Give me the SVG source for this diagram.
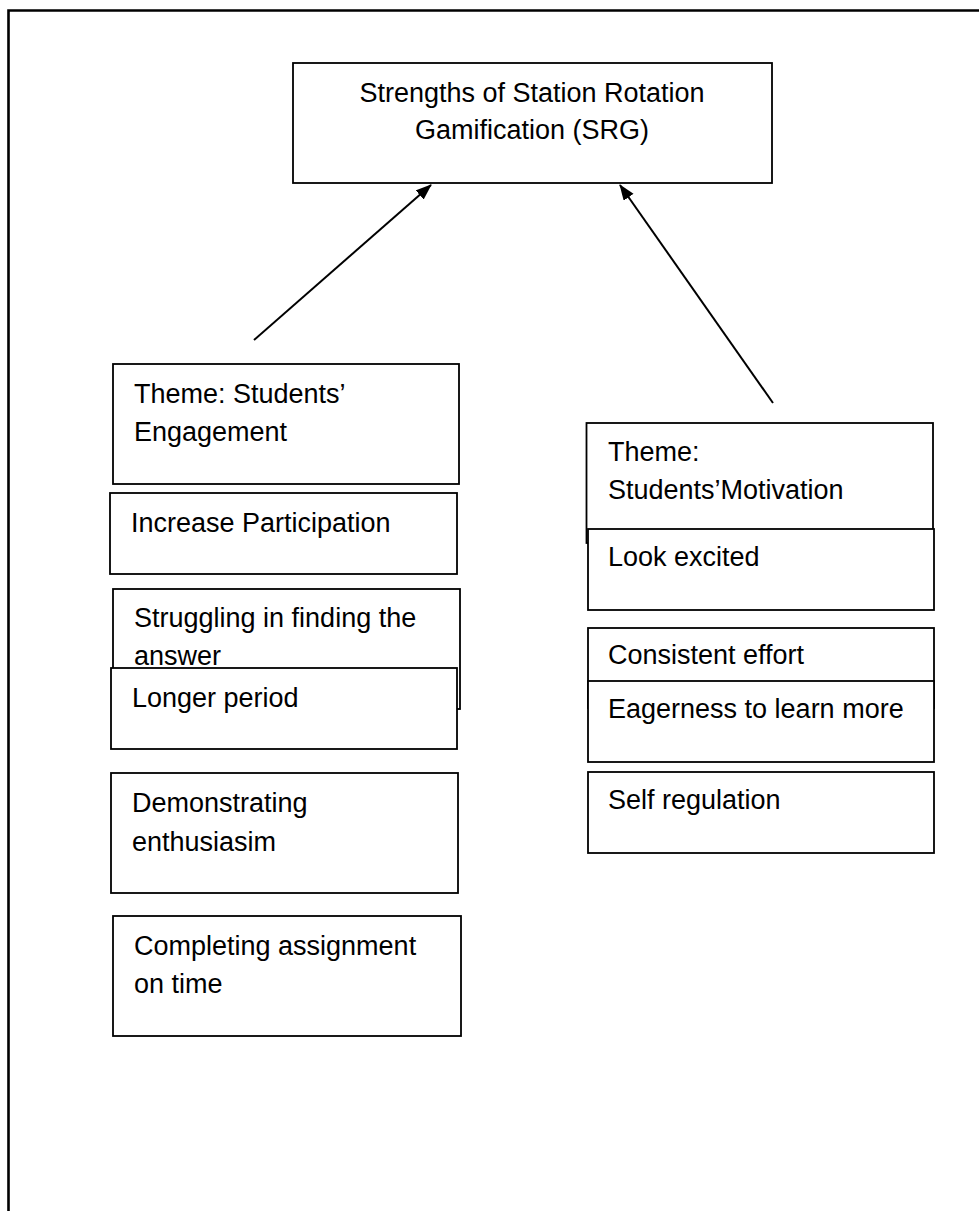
<svg xmlns="http://www.w3.org/2000/svg" width="979" height="1211" viewBox="0 0 979 1211">
<style>
.box{fill:#fff;stroke:#000;stroke-width:1.8}
.t{font-family:"Liberation Sans",Arial,sans-serif;font-size:27px;fill:#000}
.c{text-anchor:middle}
.conn{stroke:#000;stroke-width:2;fill:none}
</style>
<defs>
<marker id="ah" markerUnits="userSpaceOnUse" markerWidth="16" markerHeight="14" refX="15" refY="6" orient="auto">
<path d="M0,0 L16,6 L0,12 z" fill="#000"/>
</marker>
</defs>
<rect width="979" height="1211" fill="#fff"/>
<path d="M8.5,1211 V10.5 H979" fill="none" stroke="#000" stroke-width="2.6"/>

<g id="root">
<rect class="box" x="293" y="63" width="479" height="120"/>
<text class="t c" x="532" y="102">Strengths of Station Rotation</text>
<text class="t c" x="532" y="139">Gamification (SRG)</text>
</g>

<g id="connectors">
<line class="conn" x1="254" y1="340" x2="431" y2="185" marker-end="url(#ah)"/>
<line class="conn" x1="773" y1="403" x2="620" y2="185" marker-end="url(#ah)"/>
</g>

<g id="theme-engagement">
<rect class="box" x="113" y="364" width="346" height="120"/>
<text class="t" x="134" y="403">Theme: Students’</text>
<text class="t" x="134" y="441">Engagement</text>
</g>
<g id="increase-participation">
<rect class="box" x="110" y="493" width="347" height="81"/>
<text class="t" x="131" y="532">Increase Participation</text>
</g>
<g id="struggling">
<rect class="box" x="113" y="589" width="347" height="120"/>
<text class="t" x="134" y="627">Struggling in finding the</text>
<text class="t" x="134" y="665">answer</text>
</g>
<g id="longer-period">
<rect class="box" x="111" y="668" width="346" height="81"/>
<text class="t" x="132" y="707">Longer period</text>
</g>
<g id="demonstrating">
<rect class="box" x="111" y="773" width="347" height="120"/>
<text class="t" x="132" y="812">Demonstrating</text>
<text class="t" x="132" y="851">enthusiasim</text>
</g>
<g id="completing">
<rect class="box" x="113" y="916" width="348" height="120"/>
<text class="t" x="134" y="955">Completing assignment</text>
<text class="t" x="134" y="993">on time</text>
</g>

<g id="theme-motivation">
<rect class="box" x="586.5" y="423" width="346.5" height="120"/>
<text class="t" x="608" y="461">Theme:</text>
<text class="t" x="608" y="499">Students’Motivation</text>
</g>
<g id="look-excited">
<rect class="box" x="588" y="529" width="346" height="81"/>
<text class="t" x="608" y="566">Look excited</text>
</g>
<g id="consistent-effort">
<rect class="box" x="588" y="628" width="346" height="80"/>
<text class="t" x="608" y="664">Consistent effort</text>
</g>
<g id="eagerness">
<rect class="box" x="588" y="681" width="346" height="81"/>
<text class="t" x="608" y="718">Eagerness to learn more</text>
</g>
<g id="self-regulation">
<rect class="box" x="588" y="772" width="346" height="81"/>
<text class="t" x="608" y="809">Self regulation</text>
</g>
</svg>
